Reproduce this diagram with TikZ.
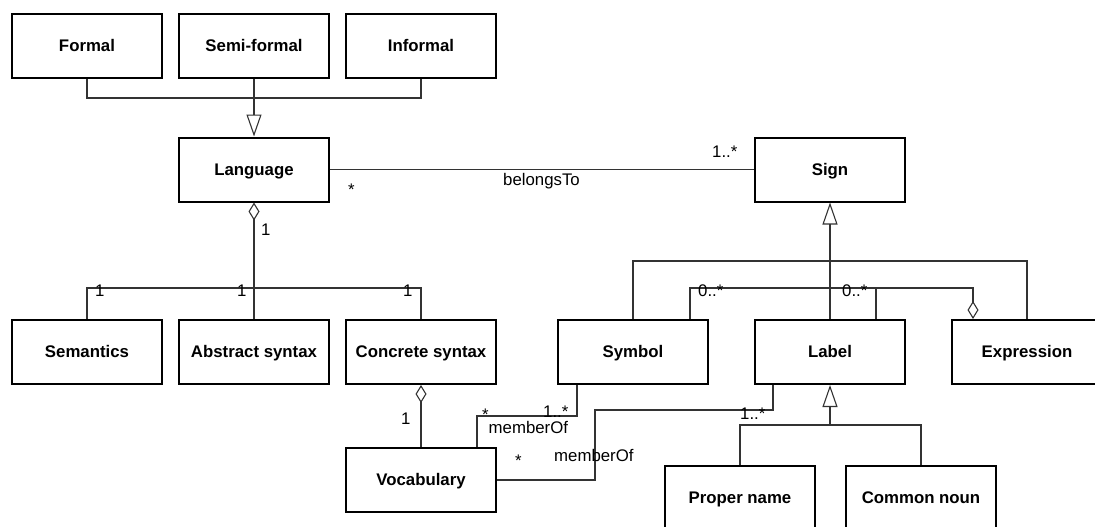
\documentclass[tikz,border=0pt]{standalone}
\usepackage{fontspec}
\setmainfont{Liberation Sans}
\usetikzlibrary{arrows.meta}
\begin{document}
\begin{tikzpicture}[x=1pt,y=-1pt,
  cls/.style={draw=black, line width=2pt, minimum width=150pt, minimum height=64pt,
    inner sep=0pt, text height=12pt, text depth=1pt,
    font=\fontsize{16.8}{20}\selectfont\bfseries},
  conn/.style={draw=black!80, line width=1.1pt},
  gen/.style={conn, -{Triangle[open,length=22pt,width=15pt]}},
  agg/.style={conn, {Diamond[open,length=18pt,width=11pt]}-},
  lbl/.style={inner sep=0pt, anchor=base west, font=\fontsize{16.8}{20}\selectfont},
]
\useasboundingbox (0,0) rectangle (1095,527);
\clip (0,0) rectangle (1095,527);

% classes
\node[cls] (formal)   at (87,46)    {Formal};
\node[cls] (semi)     at (254,46)   {Semi-formal};
\node[cls] (informal) at (421,46)   {Informal};
\node[cls] (lang)     at (254,169.5){Language};
\node[cls] (sign)     at (830,169.5){Sign};
\node[cls] (sem)      at (87,352)   {Semantics};
\node[cls] (abs)      at (254,352)  {Abstract syntax};
\node[cls] (conc)     at (421,352)  {Concrete syntax};
\node[cls] (sym)      at (633,352)  {Symbol};
\node[cls] (label)    at (830,352)  {Label};
\node[cls] (expr)     at (1027,352) {Expression};
\node[cls] (vocab)    at (421,480)  {Vocabulary};
\node[cls] (proper)   at (740,498)  {Proper name};
\node[cls] (common)   at (921,498)  {Common noun};

% kinds of language
\coordinate (j1) at (254,98);
\draw[conn] (formal.south) |- (j1) -| (informal.south);
\draw[gen] (semi.south) -- (lang.north);

% belongsTo
\draw[conn] (lang.east) -- (sign.west);

% parts of a language
\coordinate (j2) at (254,288);
\draw[agg] (lang.south) -- (abs.north);
\draw[conn] (sem.north) |- (j2) -| (conc.north);
\draw[agg] (conc.south) -- (vocab.north);

% kinds of sign
\coordinate (j3) at (830,261);
\draw[gen] (label.north) -- (sign.south);
\draw[conn] (sym.north) |- (j3) -| (expr.north);

% expressions are made of symbols and labels
\coordinate (j4) at (830,288);
\draw[agg] ([xshift=-54pt]expr.north) |- (j4) -| ([xshift=57pt]sym.north);
\draw[conn] ([xshift=46pt]label.north) -- ([xshift=46pt]label.north |- j4);

% memberOf
\coordinate (j5) at (527,416);
\draw[conn] ([xshift=-56pt]sym.south) |- (j5) -| ([xshift=56pt]vocab.north);
\coordinate (j6) at (595,410);
\draw[conn] ([xshift=-57pt]label.south) |- (j6) |- (vocab.east);

% kinds of label
\coordinate (j7) at (830,425);
\draw[gen] (j7) -- (label.south);
\draw[conn] (proper.north) |- (j7) -| (common.north);

% multiplicities and role names
\node[lbl] (mSign)  at (712,157) {1..*};
\node[lbl] (mLang)  at (348,195) {*};
\node[lbl] (rBel)   at (503,185) {belongsTo};
\node[lbl] (mLang1) at (261,235) {1};
\node[lbl] (mSem)   at (95,296)  {1};
\node[lbl] (mAbs)   at (237,296) {1};
\node[lbl] (mConc)  at (403,296) {1};
\node[lbl] (mVoc)   at (401,424) {1};
\node[lbl] (mSym0)  at (698,296) {0..*};
\node[lbl] (mLab0)  at (842,296) {0..*};
\node[lbl] (mVocA)  at (482,420) {*};
\node[lbl] (mSymA)  at (543,417) {1..*};
\node[lbl] (rMemA)  at (488.5,433) {memberOf};
\node[lbl] (mVocB)  at (515,466) {*};
\node[lbl] (rMemB)  at (554,461) {memberOf};
\node[lbl] (mLabB)  at (740,419) {1..*};
\end{tikzpicture}
\end{document}
